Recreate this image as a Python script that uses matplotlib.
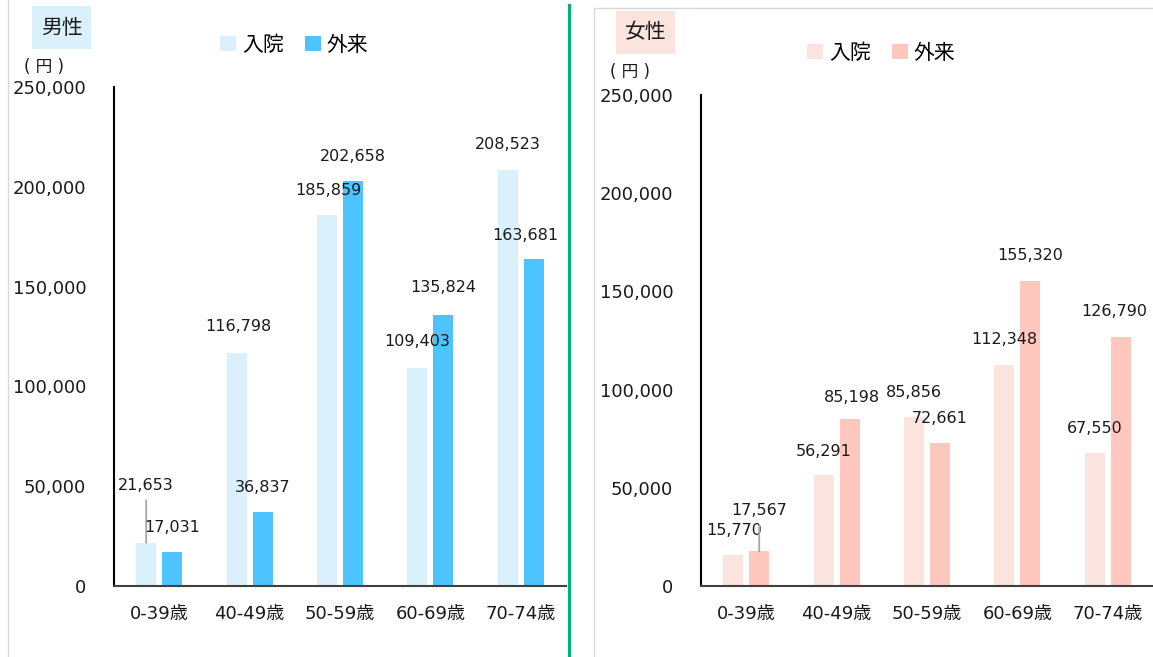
import numpy as np
import matplotlib.pyplot as plt
from matplotlib.patches import Rectangle
from matplotlib.lines import Line2D
from matplotlib.ticker import FuncFormatter

plt.rcParams['font.family'] = ['DejaVu Sans', 'Noto Sans CJK JP']

# データ
ages = ['0-39歳', '40-49歳', '50-59歳', '60-69歳', '70-74歳']
series = ['入院', '外来']
male_in = [21653, 116798, 185859, 109403, 208523]
male_out = [17031, 36837, 202658, 135824, 163681]
female_in = [15770, 56291, 85856, 112348, 67550]
female_out = [17567, 85198, 72661, 155320, 126790]

# ラベルのずらし (pixel)
male_in_off = [(0, 57), (2, 26), (1, 25), (0, 26), (0, 25)]
male_out_off = [(0, 25), (0, 25), (0, 25), (0, 27), (-9, 24)]
female_in_off = [(1, 25), (0, 24), (0, 25), (0, 26), (0, 25)]
female_out_off = [(0, 41), (2, 21), (0, 25), (0, 25), (-7, 25)]

W, H = 1153, 657
fig = plt.figure(figsize=(W / 100, H / 100), dpi=100)


def px(x, y, w, h):
    return [x / W, 1 - (y + h) / H, w / W, h / H]


def draw_panel(ax, vin, vout, cols, off_in, off_out, leader):
    x = np.arange(len(ages))
    b1 = ax.bar(x - 0.144, vin, 0.22, color=cols[0], label=series[0])
    b2 = ax.bar(x + 0.144, vout, 0.22, color=cols[1], label=series[1])
    for bars, vals, offs, key in [(b1, vin, off_in, 'in'), (b2, vout, off_out, 'out')]:
        for i, (b, v) in enumerate(zip(bars, vals)):
            xc = b.get_x() + b.get_width() / 2
            ap = None
            if leader == (key, i):
                ap = dict(arrowstyle='-', color='#A6A6A6', lw=1.3, shrinkA=3, shrinkB=0)
            ax.annotate(f'{v:,}', (xc, v), xytext=offs[i], textcoords='offset pixels',
                        ha='center', va='center', fontsize=11.5, color='#1a1a1a',
                        arrowprops=ap)
    ax.set_xlim(-0.5, 4.5)
    ax.set_ylim(0, 250000)
    ax.set_yticks(range(0, 250001, 50000))
    ax.yaxis.set_major_formatter(FuncFormatter(lambda v, p: f'{int(v):,}'))
    ax.set_xticks(x)
    ax.set_xticklabels(ages)
    ax.tick_params(length=0, labelsize=13, colors='#1a1a1a')
    ax.tick_params(axis='y', pad=20)
    ax.tick_params(axis='x', pad=14)
    for s in ['top', 'right']:
        ax.spines[s].set_visible(False)
    ax.spines['left'].set_color('black')
    ax.spines['left'].set_linewidth(1.5)
    ax.spines['bottom'].set_color('#404040')
    ax.spines['bottom'].set_linewidth(1.5)
    return b1, b2


# 枠線
fig.add_artist(Line2D([8 / W, 8 / W], [0, 1], color='#D9D9D9', lw=1))
fig.add_artist(Line2D([594 / W, 594 / W], [0, 1 - 8 / H], color='#D9D9D9', lw=1))
fig.add_artist(Line2D([594 / W, 1], [1 - 8 / H, 1 - 8 / H], color='#D9D9D9', lw=1))
fig.add_artist(Line2D([569 / W, 569 / W], [0, 1 - 5 / H], color='#00B07B', lw=2.3))

ax1 = fig.add_axes(px(114, 87, 452, 499))
ax2 = fig.add_axes(px(701, 95, 452, 491))

male_cols = ['#DAF1FD', '#4DC3FF']
female_cols = ['#FBE3DE', '#FFC8BE']
draw_panel(ax1, male_in, male_out, male_cols, male_in_off, male_out_off, ('in', 0))
draw_panel(ax2, female_in, female_out, female_cols, female_in_off, female_out_off, ('out', 0))

# 凡例
for ax, cx, cy in [(ax1, 294.5, 45), (ax2, 881.5, 53)]:
    ax.legend(loc='center', bbox_to_anchor=(cx / W, 1 - cy / H), bbox_transform=fig.transFigure,
              ncol=2, frameon=False, fontsize=15, handlelength=0.75, handleheight=0.75,
              handletextpad=0.3, columnspacing=1.0, borderpad=0)

# タイトル
for label, bx, by, col in [('男性', 32, 6, male_cols[0]), ('女性', 616, 11, female_cols[0])]:
    fig.add_artist(Rectangle((bx / W, 1 - (by + 43) / H), 59 / W, 43 / H,
                             transform=fig.transFigure, color=col, lw=0))
    fig.text((bx + 29.5) / W, 1 - (by + 21.5) / H, label, ha='center', va='center',
             fontsize=15, color='#1a1a1a', family=['Noto Sans CJK JP'])

for cx, cy in [(43.5, 67), (630, 72)]:
    fig.text(cx / W, 1 - cy / H, '( 円 )', ha='center', va='center', fontsize=12,
             color='#1a1a1a')

fig.savefig('out.png', dpi=100)
